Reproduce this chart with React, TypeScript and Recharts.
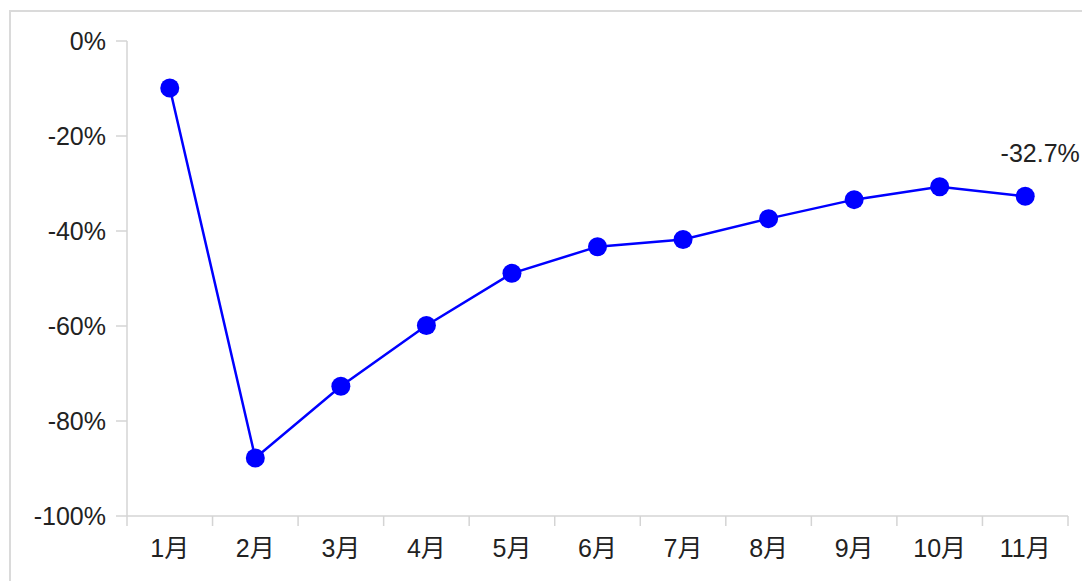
import React from "react";
import { LineChart, Line, XAxis, YAxis, LabelList } from "recharts";

const months = ["1月", "2月", "3月", "4月", "5月", "6月", "7月", "8月", "9月", "10月", "11月"];
const growth = [-9.9, -87.8, -72.7, -59.9, -48.9, -43.3, -41.8, -37.4, -33.4, -30.7, -32.7];
const yTicks = [-100, -80, -60, -40, -20, 0];
const labelMonth = "11月";

const data = months.map((m, i) => ({ pos: i + 0.5, month: m, value: growth[i] }));
const xTicks = months.map((_, i) => i).concat([months.length]);

const FONT = "'Liberation Sans', Arial, 'Noto Sans CJK SC', sans-serif";
const FS = 25;
const W = 1082;
const H = 581;
const LEFT = 127;
const RIGHT = 14;
const plotW = W - LEFT - RIGHT;
const band = plotW / months.length;

const XTick = (props: any) => {
  const { x, y, payload } = props;
  const idx = payload.value;
  if (idx >= months.length) return null;
  return (
    <text
      x={x + band / 2}
      y={y + 29}
      textAnchor="middle"
      fill="#222"
      fontSize={FS}
      fontFamily={FONT}
    >
      {months[idx]}
    </text>
  );
};

const PointLabel = (props: any) => {
  const { x, y, value, index } = props;
  if (data[index]?.month !== labelMonth) return null;
  return (
    <text x={x + 15} y={y - 34} textAnchor="middle" fill="#222" fontSize={FS} fontFamily={FONT}>
      {`${value.toFixed(1)}%`}
    </text>
  );
};

export default function App() {
  return (
    <div style={{ position: "absolute", left: 0, top: 0, width: W, height: H, background: "#fff", overflow: "hidden" }}>
      <div
        style={{
          position: "absolute",
          left: 9,
          top: 10,
          width: W + 20,
          height: H + 20,
          border: "2px solid #dadada",
          boxSizing: "border-box",
        }}
      />
      <div style={{ position: "absolute", left: 0, top: 0 }}>
        <LineChart width={W} height={H} data={data} margin={{ top: 41, right: RIGHT, bottom: 0, left: 0 }}>
          <XAxis
            dataKey="pos"
            type="number"
            domain={[0, months.length]}
            ticks={xTicks}
            interval={0}
            height={65}
            tickSize={10}
            tickLine={{ stroke: "#d4d4d4", strokeWidth: 1.5 }}
            axisLine={{ stroke: "#d4d4d4", strokeWidth: 1.5 }}
            tick={<XTick />}
          />
          <YAxis
            type="number"
            domain={[-100, 0]}
            ticks={yTicks}
            interval={0}
            width={LEFT}
            tickSize={11}
            tickMargin={10}
            tickFormatter={(v: number) => `${v}%`}
            tickLine={{ stroke: "#d4d4d4", strokeWidth: 1.5 }}
            axisLine={{ stroke: "#d4d4d4", strokeWidth: 1.5 }}
            tick={{ fill: "#222", fontSize: FS, fontFamily: FONT }}
          />
          <Line
            dataKey="value"
            stroke="#0000ff"
            strokeWidth={2.5}
            dot={{ r: 9.5, fill: "#0000ff", stroke: "#0000ff", strokeWidth: 0 }}
            activeDot={false}
            isAnimationActive={false}
          >
            <LabelList dataKey="value" content={<PointLabel />} />
          </Line>
        </LineChart>
      </div>
    </div>
  );
}
